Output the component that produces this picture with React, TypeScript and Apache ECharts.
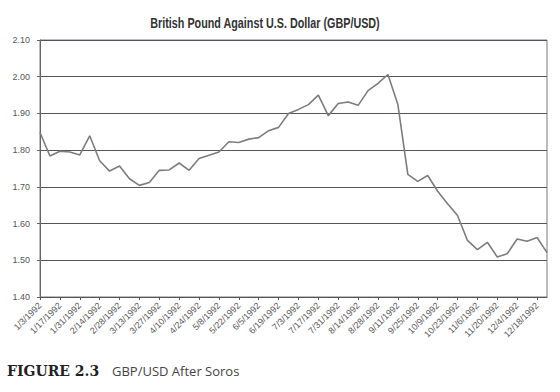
import React, { useEffect, useRef } from "react";
import * as echarts from "echarts";

const dates: string[] = [
  "1/3/1992", "1/10/1992", "1/17/1992", "1/24/1992", "1/31/1992",
  "2/7/1992", "2/14/1992", "2/21/1992", "2/28/1992",
  "3/6/1992", "3/13/1992", "3/20/1992", "3/27/1992",
  "4/3/1992", "4/10/1992", "4/17/1992", "4/24/1992",
  "5/1/1992", "5/8/1992", "5/15/1992", "5/22/1992", "5/29/1992",
  "6/5/1992", "6/12/1992", "6/19/1992", "6/26/1992",
  "7/3/1992", "7/10/1992", "7/17/1992", "7/24/1992", "7/31/1992",
  "8/7/1992", "8/14/1992", "8/21/1992", "8/28/1992",
  "9/4/1992", "9/11/1992", "9/18/1992", "9/25/1992",
  "10/2/1992", "10/9/1992", "10/16/1992", "10/23/1992", "10/30/1992",
  "11/6/1992", "11/13/1992", "11/20/1992", "11/27/1992",
  "12/4/1992", "12/11/1992", "12/18/1992", "12/25/1992",
];

const gbpUsd: number[] = [
  1.848, 1.784, 1.797, 1.795, 1.787,
  1.839, 1.771, 1.743, 1.757,
  1.722, 1.704, 1.712, 1.745,
  1.746, 1.765, 1.745, 1.777,
  1.786, 1.795, 1.823, 1.821, 1.830,
  1.834, 1.853, 1.862, 1.900,
  1.911, 1.924, 1.950, 1.894, 1.927,
  1.931, 1.922, 1.962, 1.982,
  2.006, 1.924, 1.734, 1.715,
  1.731, 1.688, 1.654, 1.622, 1.554,
  1.529, 1.549, 1.509, 1.518,
  1.558, 1.552, 1.562, 1.521,
];

const yMin = 1.4;
const yMax = 2.1;
const yStep = 0.1;

const titleText = "British Pound Against U.S. Dollar (GBP/USD)";
const figureLabel = "FIGURE 2.3";
const figureCaption = "GBP/USD After Soros";

export default function App() {
  const ref = useRef<HTMLDivElement>(null);
  useEffect(() => {
    document.body.style.margin = "0";
    if (!ref.current) return;
    const chart = echarts.init(ref.current, null, { renderer: "svg" });
    const axisFont = "'Liberation Sans', Arial, sans-serif";
    chart.setOption({
      animation: false,
      backgroundColor: "#ffffff",
      grid: {
        left: 40,
        right: 13,
        top: 40,
        bottom: 95,
        show: true,
        borderColor: "#7a7a7a",
        borderWidth: 1,
        backgroundColor: "transparent",
      },
      xAxis: {
        type: "category",
        data: dates,
        boundaryGap: false,
        axisLine: { show: true, lineStyle: { color: "#555555", width: 1 } },
        axisTick: {
          show: true,
          interval: 1,
          length: 3,
          alignWithLabel: true,
          lineStyle: { color: "#555555" },
        },
        axisLabel: {
          interval: 1,
          rotate: 45,
          margin: 7,
          fontSize: 9,
          color: "#5a5a5a",
          fontFamily: axisFont,
        },
        splitLine: { show: false },
      },
      yAxis: {
        type: "value",
        min: yMin,
        max: yMax,
        interval: yStep,
        axisLine: { show: true, lineStyle: { color: "#666666" } },
        axisTick: { show: true, length: 3, lineStyle: { color: "#666666" } },
        axisLabel: {
          margin: 10,
          fontSize: 9,
          color: "#555555",
          fontFamily: axisFont,
          formatter: (v: number) => v.toFixed(2),
        },
        splitLine: { show: true, lineStyle: { color: "#55575c", width: 1 } },
      },
      series: [
        {
          type: "line",
          data: gbpUsd,
          symbol: "none",
          smooth: false,
          lineStyle: { color: "#7d7d7d", width: 1.6 },
        },
      ],
      graphic: [
        {
          type: "text",
          x: 265,
          y: 24,
          scaleX: 0.77,
          style: {
            text: titleText,
            x: 0,
            y: 0,
            align: "center",
            verticalAlign: "middle",
            fontFamily: "'Liberation Sans', Arial, sans-serif",
            fontWeight: "bold",
            fontSize: 14,
            fill: "#333333",
          },
        },
        {
          type: "text",
          left: 7,
          top: 364,
          style: {
            text: figureLabel,
            fontFamily: "'DejaVu Serif', 'Liberation Serif', serif",
            fontWeight: "bold",
            fontSize: 14,
            fill: "#222222",
          },
        },
        {
          type: "text",
          left: 112,
          top: 364,
          style: {
            text: figureCaption,
            fontFamily: "'Open Sans', 'Noto Sans', sans-serif",
            fontSize: 13,
            fill: "#444444",
          },
        },
      ],
    });
    return () => chart.dispose();
  }, []);
  return <div ref={ref} style={{ width: 560, height: 392 }} />;
}
